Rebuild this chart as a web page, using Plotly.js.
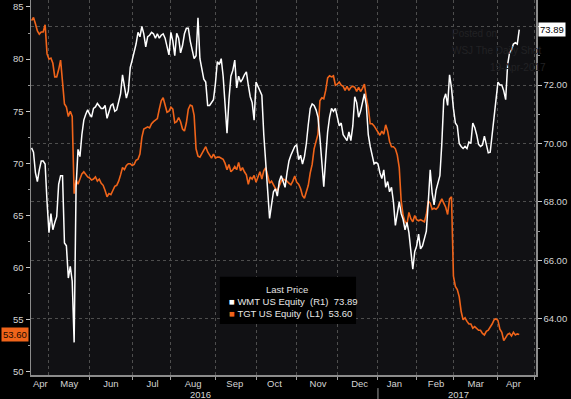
<!DOCTYPE html>
<html><head><meta charset="utf-8">
<script src="https://cdn.plot.ly/plotly-3.0.1.min.js"></script>
<style>html,body{margin:0;padding:0;background:#000;}#chart{width:571px;height:399px;}</style>
</head><body><div id="chart"></div>
<script>
// ---- data ----
const startDate = '2016-04-19';
const holidays = ['2016-05-30','2016-07-04','2016-09-05','2016-11-24','2016-12-26',
                  '2017-01-02','2017-01-16','2017-02-20','2017-04-14'];
const wmtName = 'WMT US Equity';
const tgtName = 'TGT US Equity';
const wmt = [
 69.85,69.7,69.0,68.7,69.1,69.4,69.4,69.3,68.0,66.95,
 67.6,67.05,67.3,67.5,68.6,68.9,68.9,66.6,66.5,65.4,
 65.8,65.3,63.2,68.5,69.8,69.55,70.3,70.8,71.0,71.15,
 71.0,70.9,71.2,71.25,71.37,71.3,71.2,71.2,71.3,70.86,
 71.1,71.3,71.35,71.1,71.15,71.4,71.7,72.35,72.0,71.55,
 71.8,72.6,72.85,73.1,73.4,73.8,73.65,74.0,73.75,73.3,
 73.65,73.7,73.8,73.75,73.6,73.75,73.6,73.7,73.75,73.6,
 73.3,73.03,73.8,73.5,73.0,73.77,73.6,73.1,73.35,73.75,
 73.94,73.94,73.5,73.2,72.9,73.0,74.3,72.9,72.6,72.2,
 72.1,71.3,71.3,71.4,71.5,72.05,72.8,72.7,72.9,72.3,
 71.2,70.35,71.5,72.3,72.5,72.85,71.9,72.3,72.1,72.2,
 72.35,72.45,72.0,71.6,71.4,70.8,72.1,71.95,71.8,71.65,
 70.3,69.4,68.6,67.44,67.9,68.35,68.45,68.2,68.7,68.9,
 68.7,68.5,69.0,69.4,69.6,69.75,69.9,69.95,69.45,69.6,
 69.3,69.55,70.0,70.65,71.2,71.35,71.3,71.15,70.9,70.2,
 69.2,68.52,69.5,70.4,70.9,71.2,71.1,71.2,70.9,70.6,
 70.7,70.3,70.2,70.1,70.4,70.1,70.6,71.6,71.4,70.9,
 71.1,71.4,71.7,71.3,70.3,69.9,69.6,69.3,69.35,69.3,
 69.0,68.8,69.1,68.5,68.7,68.35,68.5,68.0,67.2,67.6,
 68.0,67.6,67.4,67.05,67.3,66.95,66.4,65.7,66.3,66.5,
 66.9,66.4,66.5,66.8,67.0,68.0,69.1,68.3,67.9,68.4,
 68.7,68.9,70.0,71.5,71.7,71.3,72.35,71.9,71.2,70.7,
 70.6,70.0,69.9,69.83,69.9,69.83,70.05,70.0,70.7,70.55,
 70.3,69.97,69.9,69.95,70.25,69.95,69.68,69.7,70.3,70.8,
 71.55,72.1,72.0,72.0,71.8,71.5,72.7,73.1,73.2,73.4,
 73.45,73.4,73.89
];
const tgt = [
 83.7,84.0,83.4,82.7,82.4,82.6,82.6,83.3,80.5,80.0,
 80.1,79.6,78.3,78.3,79.0,79.9,77.8,75.7,75.4,74.5,
 75.0,74.5,67.1,68.4,68.0,68.5,69.0,69.2,68.9,68.7,
 68.6,68.4,68.5,68.7,68.3,68.5,68.1,67.9,67.4,66.8,
 67.1,67.0,67.4,67.8,67.9,68.3,68.9,69.6,69.4,69.8,
 69.97,69.97,69.8,69.9,70.3,70.4,70.9,72.5,73.3,73.4,
 73.5,73.4,73.8,74.0,74.2,74.3,75.2,76.0,76.3,75.7,
 74.9,75.0,75.4,75.2,73.9,74.0,74.4,74.0,73.3,73.1,
 73.9,75.2,75.6,75.5,74.6,71.4,70.7,70.6,70.9,71.3,
 71.6,71.1,70.8,70.5,70.9,70.5,70.6,70.6,70.5,70.4,
 70.0,69.4,69.9,69.2,69.4,69.7,69.4,70.1,69.3,69.6,
 69.2,68.9,68.0,68.7,68.5,68.85,68.2,68.7,69.2,68.5,
 69.3,69.6,68.8,68.1,68.3,67.9,67.6,67.4,67.9,68.3,
 68.5,68.4,68.3,68.1,67.95,68.3,68.8,68.2,68.0,67.6,
 66.9,66.65,67.4,67.9,69.1,69.9,71.4,72.2,72.8,76.0,
 76.3,76.2,77.0,78.2,78.4,78.3,78.4,77.5,77.6,77.8,
 77.5,77.4,77.0,77.4,77.0,77.3,77.4,77.3,76.9,77.3,
 76.9,77.2,77.6,76.3,75.3,73.8,73.8,73.6,73.3,72.9,
 72.7,73.1,72.8,73.7,73.1,72.1,71.6,71.6,71.4,70.8,
 69.6,66.4,65.0,64.4,64.2,65.3,64.7,64.4,65.0,64.6,
 64.5,64.6,64.5,64.4,65.1,66.4,66.2,65.6,65.7,65.6,
 65.8,66.3,66.6,66.2,65.8,65.1,66.6,66.8,59.2,58.2,
 57.9,57.2,55.8,55.0,55.2,54.85,54.6,54.6,54.2,54.35,
 54.15,54.0,54.0,53.7,53.55,53.9,54.0,54.25,54.6,55.0,
 55.1,54.95,54.1,53.8,53.0,53.3,53.6,53.7,53.45,53.8,
 53.55,53.65,53.6
];
const leftTicks = [50,55,60,65,70,75,80,85];
const rightTicks = [64,66,68,70,72,74];
const rightTickText = ['64.00','66.00','68.00','70.00','72.00',''];
const firstMonthLabel = 'Apr';
const yearLabels = ['2016','2017'];
const legendTitle = 'Last Price';
const watermark = ['Posted on','WSJ The Daily Shot','19-Apr-2017'];

// ---- trading-day dates (weekdays minus exchange holidays) ----
function tradingDays(start, n, hol) {
  const out = [];
  const d = new Date(start + 'T00:00:00Z');
  while (out.length < n) {
    const s = d.toISOString().slice(0, 10);
    const wd = d.getUTCDay();
    if (wd !== 0 && wd !== 6 && hol.indexOf(s) < 0) out.push(s);
    d.setUTCDate(d.getUTCDate() + 1);
  }
  return out;
}
const dates = tradingDays(startDate, wmt.length, holidays);

const ORANGE = '#f0641a';
const FONT = 'Liberation Sans, Arial, sans-serif';
const NB = '\u00a0';
const wLast = wmt[wmt.length - 1].toFixed(2);
const tLast = tgt[tgt.length - 1].toFixed(2);

const traces = [
  {x: dates, y: wmt, yaxis: 'y2', type: 'scatter', mode: 'lines', name: wmtName,
   line: {color: '#ffffff', width: 1.5}},
  {x: dates, y: tgt, yaxis: 'y', type: 'scatter', mode: 'lines', name: tgtName,
   line: {color: ORANGE, width: 1.6}}
];

const layout = {
  width: 571, height: 399,
  margin: {l: 31, r: 35, t: 0, b: 24, pad: 0},
  paper_bgcolor: '#000000', plot_bgcolor: '#111114',
  showlegend: false,
  font: {family: FONT, size: 9.5, color: '#d4d4d4'},
  xaxis: {
    type: 'date',
    range: ['2016-04-18 17:00', '2017-05-01 16:00'],
    rangebreaks: [{bounds: ['sat', 'mon']}, {values: holidays}],
    tickmode: 'linear', tick0: '2016-05-01', dtick: 'M1',
    tickformat: '%b', ticklabelmode: 'period', ticklabelstandoff: -4,
    showgrid: true, gridcolor: '#4e4e4e', griddash: 'dot', gridwidth: 1,
    ticks: 'outside', ticklen: 3, tickcolor: '#a0a0a0',
    showline: true, linecolor: '#8c8c8c', linewidth: 1.5,
    zeroline: false, tickfont: {size: 9.5, color: '#d4d4d4'}
  },
  yaxis: {
    range: [49.71, 85.67], tickvals: leftTicks,
    ticks: 'outside', ticklen: 4, tickcolor: '#c8c8c8',
    showline: true, linecolor: '#8c8c8c', linewidth: 1.5,
    showgrid: false, zeroline: false,
    tickfont: {size: 9.5, color: '#d4d4d4'},
    minor: {tick0: 52.5, dtick: 5, ticklen: 2, tickcolor: '#9a9a9a', showgrid: false}
  },
  yaxis2: {
    overlaying: 'y', side: 'right',
    range: [62.085, 74.906], tickvals: rightTicks, ticktext: rightTickText,
    ticks: 'outside', ticklen: 4, tickcolor: '#c8c8c8',
    showline: true, linecolor: '#8c8c8c', linewidth: 1.5,
    showgrid: true, gridcolor: '#4e4e4e', griddash: 'dot', gridwidth: 1,
    zeroline: false, tickfont: {size: 9.5, color: '#d4d4d4'},
    minor: {tick0: 63, dtick: 2, ticklen: 2, tickcolor: '#9a9a9a', showgrid: false}
  },
  shapes: [
    {type: 'rect', xref: 'paper', yref: 'paper', x0: 0.374, x1: 0.6436, y0: 0.136, y1: 0.262,
     fillcolor: '#000000', line: {width: 0}, layer: 'above'},
    {type: 'line', xref: 'x', yref: 'paper', x0: '2017-01-03', x1: '2017-01-03', y0: -0.035, y1: -0.064,
     line: {color: '#9a9a9a', width: 1}}
  ],
  annotations: [
    {xref: 'paper', yref: 'paper', x: 0.018, y: -0.022, text: firstMonthLabel, showarrow: false,
     xanchor: 'center', yanchor: 'middle', font: {size: 9.5, color: '#d4d4d4'}},
    {xref: 'paper', yref: 'paper', x: 0.335, y: -0.051, text: yearLabels[0], showarrow: false,
     xanchor: 'center', yanchor: 'middle', font: {size: 9.5, color: '#d4d4d4'}},
    {xref: 'paper', yref: 'paper', x: 0.846, y: -0.051, text: yearLabels[1], showarrow: false,
     xanchor: 'center', yanchor: 'middle', font: {size: 9.5, color: '#d4d4d4'}},
    {xref: 'paper', yref: 'paper', x: 0.507, y: 0.2293, text: legendTitle, showarrow: false,
     xanchor: 'center', yanchor: 'middle', font: {size: 9.5, color: '#e0e0e0'}},
    {xref: 'paper', yref: 'paper', x: 0.388, y: 0.1973, showarrow: false, xanchor: 'left', yanchor: 'middle',
     text: '<span style="color:#ffffff">\u25A0</span>' + NB + wmtName + NB + NB + '(R1)' + NB + NB + wLast,
     font: {size: 9.5, color: '#e6e6e6'}},
    {xref: 'paper', yref: 'paper', x: 0.388, y: 0.1653, showarrow: false, xanchor: 'left', yanchor: 'middle',
     text: '<span style="color:' + ORANGE + '">\u25A0</span>' + NB + tgtName + NB + NB + '(L1)' + NB + NB + tLast,
     font: {size: 9.5, color: '#e6e6e6'}},
    {xref: 'paper', yref: 'y', x: 0, y: tgt[tgt.length - 1], xanchor: 'right', yanchor: 'middle', xshift: -2,
     text: tLast, showarrow: false, bgcolor: ORANGE, borderpad: 1,
     font: {size: 9.5, color: '#1a0a00'}},
    {xref: 'paper', yref: 'y2', x: 1, y: wmt[wmt.length - 1], xanchor: 'left', yanchor: 'middle', xshift: 2,
     text: wLast, showarrow: false, bgcolor: '#ffffff', borderpad: 1,
     font: {size: 9.5, color: '#000000'}},
    {xref: 'paper', yref: 'paper', x: 0.83, y: 0.91, xanchor: 'left', yanchor: 'middle', showarrow: false,
     text: watermark[0], font: {size: 10, color: '#222224'}},
    {xref: 'paper', yref: 'paper', x: 0.83, y: 0.865, xanchor: 'left', yanchor: 'middle', showarrow: false,
     text: watermark[1], font: {size: 10, color: '#222224'}},
    {xref: 'paper', yref: 'paper', x: 0.905, y: 0.82, xanchor: 'left', yanchor: 'middle', showarrow: false,
     text: watermark[2], font: {size: 10, color: '#222224'}}
  ]
};

Plotly.newPlot('chart', traces, layout, {staticPlot: true, displayModeBar: false});
</script>
</body></html>
